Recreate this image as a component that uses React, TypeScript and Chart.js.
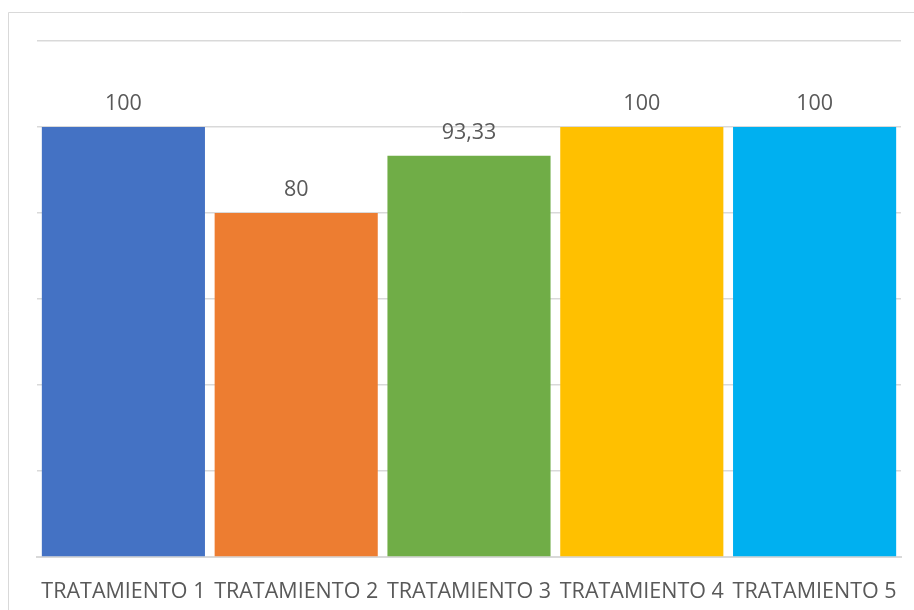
import React, { useEffect, useRef } from "react";
import { Chart, registerables } from "chart.js";

Chart.register(...registerables);

const categories = ["TRATAMIENTO 1", "TRATAMIENTO 2", "TRATAMIENTO 3", "TRATAMIENTO 4", "TRATAMIENTO 5"];
const values = [100, 80, 93.33, 100, 100];
const barColors = ["#4472C4", "#ED7D31", "#70AD47", "#FFC000", "#00B0F0"];
const yMin = 0;
const yMax = 120;
const yStep = 20;

const FONT = "'Open Sans', 'Liberation Sans', sans-serif";
const FONT_SIZE = 21.5;

const frame = {
  id: "frame",
  beforeDraw(chart: any) {
    const ctx = chart.ctx;
    ctx.save();
    ctx.fillStyle = "#ffffff";
    ctx.fillRect(0, 0, chart.width, chart.height);
    ctx.strokeStyle = "#d9d9d9";
    ctx.lineWidth = 1;
    ctx.beginPath();
    ctx.moveTo(8.5, chart.height + 2);
    ctx.lineTo(8.5, 12.5);
    ctx.lineTo(chart.width + 2, 12.5);
    ctx.stroke();
    ctx.restore();
  },
};

const valueLabels = {
  id: "valueLabels",
  afterDatasetsDraw(chart: any) {
    const ctx = chart.ctx;
    const meta = chart.getDatasetMeta(0);
    ctx.save();
    ctx.fillStyle = "#595959";
    ctx.font = `${FONT_SIZE}px ${FONT}`;
    ctx.textAlign = "center";
    ctx.textBaseline = "middle";
    meta.data.forEach((bar: any, i: number) => {
      const v = values[i];
      const txt = String(v).replace(".", ",");
      ctx.fillText(txt, bar.x, bar.y - 23);
    });
    ctx.restore();
  },
};

export default function App() {
  const ref = useRef<HTMLCanvasElement | null>(null);
  useEffect(() => {
    if (!ref.current) return;
    const chart = new Chart(ref.current, {
      type: "bar",
      data: {
        labels: categories,
        datasets: [
          {
            data: values,
            backgroundColor: barColors,
            barPercentage: 0.944,
            categoryPercentage: 1,
          },
        ],
      },
      options: {
        animation: false,
        responsive: false,
        maintainAspectRatio: false,
        devicePixelRatio: 1,
        layout: { padding: { left: 37, right: 13, top: 41, bottom: 7 } },
        plugins: { legend: { display: false }, tooltip: { enabled: false } },
        scales: {
          x: {
            grid: { display: false, drawTicks: false },
            border: { display: true, color: "#d9d9d9", width: 2 },
            ticks: {
              color: "#595959",
              font: { family: FONT, size: FONT_SIZE },
              padding: 22,
              maxRotation: 0,
              autoSkip: false,
            },
            afterFit(scale: any) {
              scale.height = 46;
              scale.paddingLeft = 0;
              scale.paddingRight = 0;
            },
          },
          y: {
            min: yMin,
            max: yMax,
            ticks: { display: false, stepSize: yStep },
            grid: { color: "#d9d9d9", lineWidth: 1.5, drawTicks: false },
            border: { display: false },
          },
        },
      },
      plugins: [frame, valueLabels],
    });
    return () => chart.destroy();
  }, []);
  return (
    <canvas
      ref={ref}
      width={914}
      height={610}
      style={{ position: "absolute", left: 0, top: 0, width: 914, height: 610 }}
    />
  );
}
